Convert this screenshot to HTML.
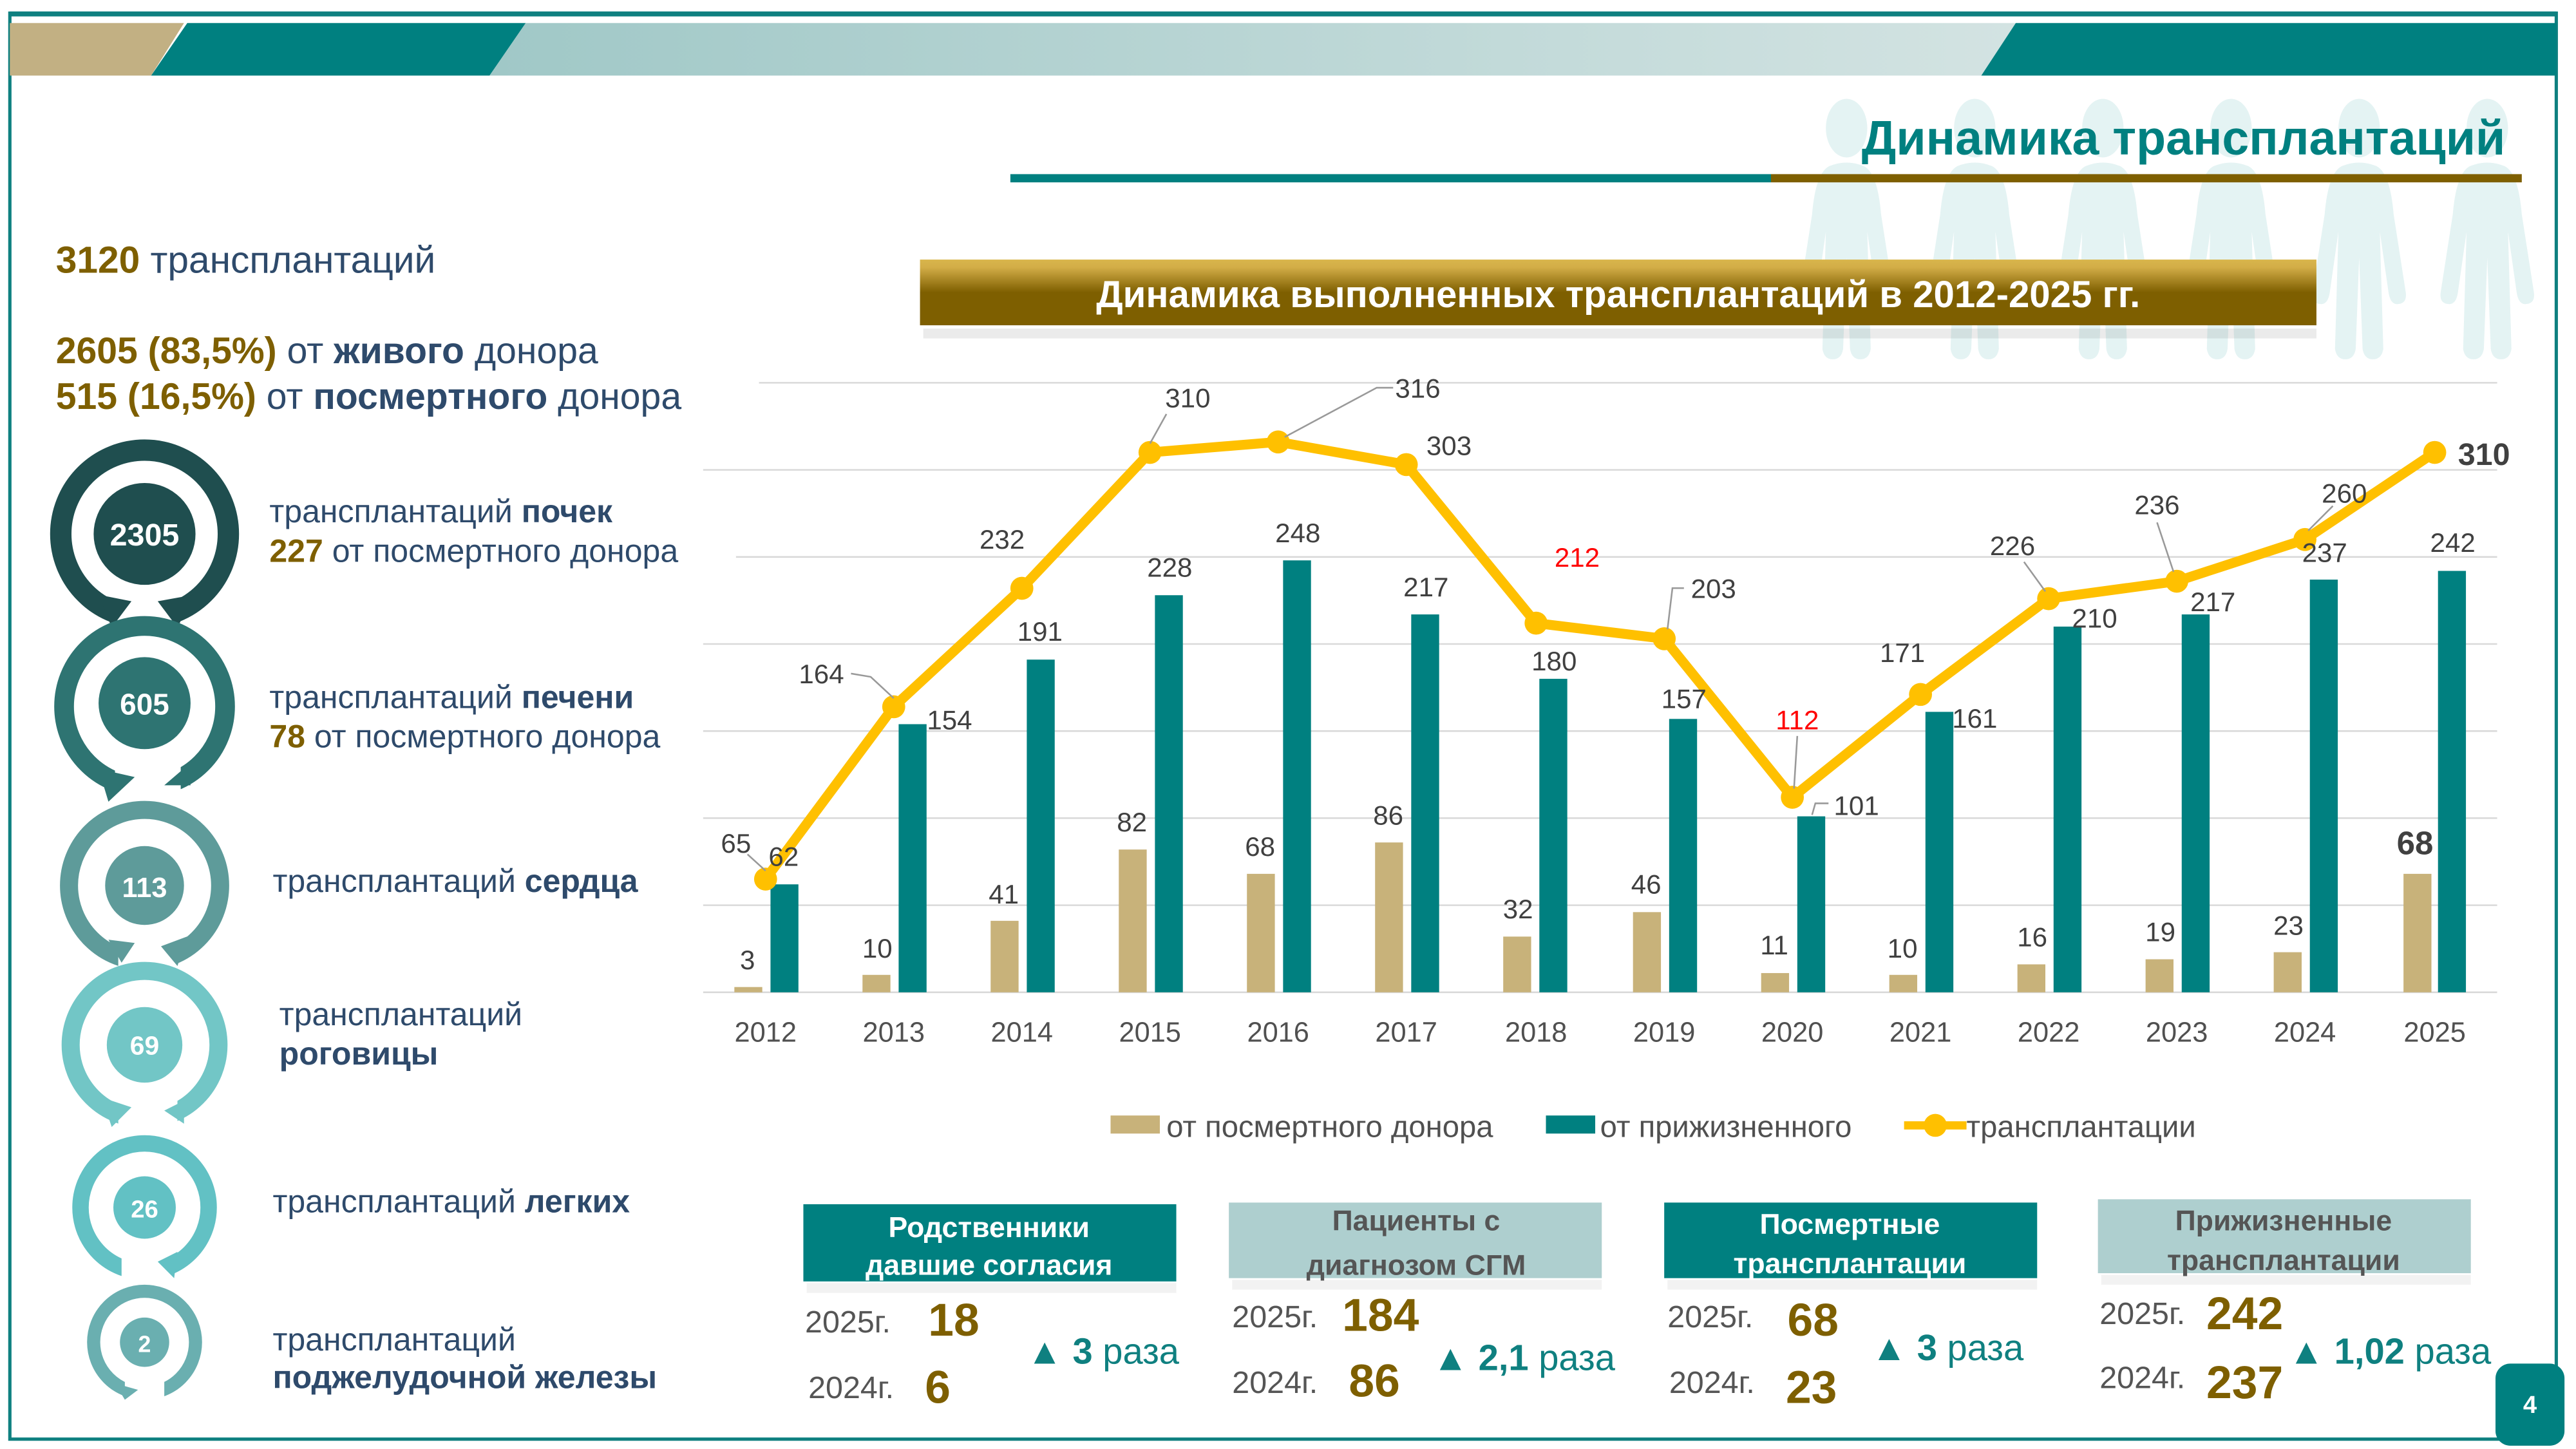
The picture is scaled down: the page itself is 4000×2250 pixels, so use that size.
<!DOCTYPE html>
<html><head><meta charset="utf-8"><style>
html,body{margin:0;padding:0;background:#fff;}
svg{display:block;}
text{font-family:"Liberation Sans",sans-serif;}
</style></head><body>
<svg width="4000" height="2250" viewBox="0 0 1568 882" xmlns="http://www.w3.org/2000/svg">
<defs>
<linearGradient id="hg" x1="0" x2="1" y1="0" y2="0"><stop offset="0" stop-color="#a0c8c7"/><stop offset="1" stop-color="#d3e3e2"/></linearGradient>
<linearGradient id="gold" x1="0" x2="0" y1="0" y2="1"><stop offset="0" stop-color="#d9b64c"/><stop offset="0.12" stop-color="#d2ad47"/><stop offset="0.5" stop-color="#7e5f00"/><stop offset="1" stop-color="#7e5f00"/></linearGradient>
<g id="person"><ellipse cx="0" cy="0" rx="12" ry="17" fill="#e4f3f3"/><path d="M-10,22 Q0,18 10,22 Q18,26 20,50 L27,95 Q28,102 22,102 Q18,102 17,95 L12,60 L14,128 Q13,134 8,134 Q3,134 2,128 L0,75 L-2,128 Q-3,134 -8,134 Q-13,134 -14,128 L-12,60 L-17,95 Q-18,102 -22,102 Q-28,102 -27,95 L-20,50 Q-18,26 -10,22Z" fill="#e4f3f3"/></g>
</defs>
<rect x="0" y="0" width="1568" height="882" fill="#fff"/>
<rect x="6" y="8" width="1550" height="868" fill="none" stroke="#0f8080" stroke-width="2"/>
<rect x="6" y="7" width="1550" height="3" fill="#0f8080"/>
<polygon points="6,14 112,14 92,46 6,46" fill="#c2b083"/>
<polygon points="114,14 320,14 298,46 92,46" fill="#008080"/>
<polygon points="320,14 1227,14 1206,46 298,46" fill="url(#hg)"/>
<polygon points="1227,14 1556,14 1556,46 1206,46" fill="#008080"/>
<g transform="translate(1124,78) scale(1.05,1.05)"><use href="#person"/></g>
<g transform="translate(1202,78) scale(1.05,1.05)"><use href="#person"/></g>
<g transform="translate(1280,78) scale(1.05,1.05)"><use href="#person"/></g>
<g transform="translate(1358,78) scale(1.05,1.05)"><use href="#person"/></g>
<g transform="translate(1436,78) scale(1.05,1.05)"><use href="#person"/></g>
<g transform="translate(1514,78) scale(1.05,1.05)"><use href="#person"/></g>
<text x="1525" y="94" text-anchor="end" font-size="29.5" font-weight="bold" fill="#008080">Динамика трансплантаций</text>
<rect x="615" y="106" width="463" height="5" fill="#008080"/>
<rect x="1078" y="106" width="457" height="5" fill="#7e5f00"/>
<rect x="562" y="200" width="848" height="6" fill="#000" opacity="0.08"/>
<rect x="560" y="158" width="850" height="40" fill="url(#gold)"/>
<text x="985" y="187" text-anchor="middle" font-size="22.8" font-weight="bold" fill="#fff">Динамика выполненных трансплантаций в 2012-2025 гг.</text>
<text x="34" y="166" font-size="23" fill="#2e4a6b"><tspan fill="#7e5f00" font-weight="bold">3120</tspan> трансплантаций</text>
<text x="34" y="221" font-size="22.4" fill="#2e4a6b"><tspan fill="#7e5f00" font-weight="bold">2605 (83,5%)</tspan> от <tspan font-weight="bold">живого</tspan> донора</text>
<text x="34" y="249" font-size="22.4" fill="#2e4a6b"><tspan fill="#7e5f00" font-weight="bold">515 (16,5%)</tspan> от <tspan font-weight="bold">посмертного</tspan> донора</text>
<g>
<circle cx="88" cy="325" r="51" fill="none" stroke="#1f4e4f" stroke-width="13"/>
<rect x="70" y="360" width="40" height="30" fill="#fff"/>
<polygon points="60,362 80,366 68,382" fill="#1f4e4f"/><polygon points="118,362 96,366 108,382" fill="#1f4e4f"/>
<circle cx="88" cy="325" r="31" fill="#1f4e4f"/>
<text x="88" y="332" text-anchor="middle" font-size="19" font-weight="bold" fill="#fff">2305</text>
<circle cx="88" cy="430" r="49" fill="none" stroke="#2e7472" stroke-width="12"/>
<rect x="70" y="462" width="40" height="28" fill="#fff"/>
<polygon points="60,468 82,473 66,488" fill="#2e7472"/><polygon points="114,466 100,478 116,478" fill="#2e7472"/>
<circle cx="88" cy="428" r="28" fill="#2e7472"/>
<text x="88" y="435" text-anchor="middle" font-size="18" font-weight="bold" fill="#fff">605</text>
<circle cx="88" cy="539" r="46" fill="none" stroke="#5e9b9a" stroke-width="11"/>
<rect x="72" y="570" width="36" height="22" fill="#fff"/>
<polygon points="66,572 82,574 74,586" fill="#5e9b9a"/><polygon points="114,570 98,576 108,588" fill="#5e9b9a"/>
<circle cx="88" cy="539" r="24" fill="#5e9b9a"/>
<text x="88" y="546" text-anchor="middle" font-size="17" font-weight="bold" fill="#fff">113</text>
<circle cx="88" cy="636" r="45" fill="none" stroke="#72c6c6" stroke-width="11"/>
<rect x="72" y="667" width="36" height="22" fill="#fff"/>
<polygon points="62,668 80,674 68,686" fill="#72c6c6"/><polygon points="112,670 100,676 112,684" fill="#72c6c6"/>
<circle cx="88" cy="636" r="23" fill="#72c6c6"/>
<text x="88" y="642" text-anchor="middle" font-size="16" font-weight="bold" fill="#fff">69</text>
<circle cx="88" cy="735" r="39" fill="none" stroke="#62c1c4" stroke-width="10"/>
<rect x="74" y="760" width="32" height="20" fill="#fff"/>
<polygon points="108,762 96,768 106,778" fill="#62c1c4"/>
<circle cx="88" cy="735" r="19" fill="#62c1c4"/>
<text x="88" y="741" text-anchor="middle" font-size="15" font-weight="bold" fill="#fff">26</text>
<circle cx="88" cy="817" r="31" fill="none" stroke="#6aafb0" stroke-width="8"/>
<rect x="76" y="838" width="24" height="16" fill="#fff"/>
<polygon points="70,842 84,846 76,852" fill="#6aafb0"/>
<circle cx="88" cy="817" r="15" fill="#6aafb0"/>
<text x="88" y="823" text-anchor="middle" font-size="14" font-weight="bold" fill="#fff">2</text>
</g>
<g font-size="19.6" fill="#2e4a6b">
<text x="164" y="318">трансплантаций <tspan font-weight="bold">почек</tspan></text>
<text x="164" y="342"><tspan fill="#7e5f00" font-weight="bold">227</tspan> от посмертного донора</text>
<text x="164" y="431">трансплантаций <tspan font-weight="bold">печени</tspan></text>
<text x="164" y="455"><tspan fill="#7e5f00" font-weight="bold">78</tspan> от посмертного донора</text>
<text x="166" y="543">трансплантаций <tspan font-weight="bold">сердца</tspan></text>
<text x="170" y="624">трансплантаций</text>
<text x="170" y="648" font-weight="bold">роговицы</text>
<text x="166" y="738">трансплантаций <tspan font-weight="bold">легких</tspan></text>
<text x="166" y="822">трансплантаций</text>
<text x="166" y="845" font-weight="bold">поджелудочной железы</text>
</g>
<g stroke="#d9d9d9" stroke-width="1">
<line x1="462" y1="233" x2="1520" y2="233"/>
<line x1="428" y1="286" x2="1520" y2="286"/>
<line x1="448" y1="339" x2="1520" y2="339"/>
<line x1="428" y1="392" x2="1520" y2="392"/>
<line x1="428" y1="445" x2="1520" y2="445"/>
<line x1="428" y1="498" x2="1520" y2="498"/>
<line x1="428" y1="551" x2="1520" y2="551"/>
<line x1="428" y1="604" x2="1520" y2="604"/>
</g>
<g>
<rect x="447" y="600.8" width="17" height="3.2" fill="#c8b27a"/><rect x="469" y="538.3" width="17" height="65.7" fill="#008080"/>
<rect x="525" y="593.4" width="17" height="10.6" fill="#c8b27a"/><rect x="547" y="440.8" width="17" height="163.2" fill="#008080"/>
<rect x="603" y="560.5" width="17" height="43.5" fill="#c8b27a"/><rect x="625" y="401.5" width="17" height="202.5" fill="#008080"/>
<rect x="681" y="517.1" width="17" height="86.9" fill="#c8b27a"/><rect x="703" y="362.3" width="17" height="241.7" fill="#008080"/>
<rect x="759" y="531.9" width="17" height="72.1" fill="#c8b27a"/><rect x="781" y="341.1" width="17" height="262.9" fill="#008080"/>
<rect x="837" y="512.8" width="17" height="91.2" fill="#c8b27a"/><rect x="859" y="374" width="17" height="230" fill="#008080"/>
<rect x="915" y="570.1" width="17" height="33.9" fill="#c8b27a"/><rect x="937" y="413.2" width="17" height="190.8" fill="#008080"/>
<rect x="994" y="555.2" width="17" height="48.8" fill="#c8b27a"/><rect x="1016" y="437.6" width="17" height="166.4" fill="#008080"/>
<rect x="1072" y="592.3" width="17" height="11.7" fill="#c8b27a"/><rect x="1094" y="496.9" width="17" height="107.1" fill="#008080"/>
<rect x="1150" y="593.4" width="17" height="10.6" fill="#c8b27a"/><rect x="1172" y="433.3" width="17" height="170.7" fill="#008080"/>
<rect x="1228" y="587" width="17" height="17" fill="#c8b27a"/><rect x="1250" y="381.4" width="17" height="222.6" fill="#008080"/>
<rect x="1306" y="583.9" width="17" height="20.1" fill="#c8b27a"/><rect x="1328" y="374" width="17" height="230" fill="#008080"/>
<rect x="1384" y="579.6" width="17" height="24.4" fill="#c8b27a"/><rect x="1406" y="352.8" width="17" height="251.2" fill="#008080"/>
<rect x="1463" y="531.9" width="17" height="72.1" fill="#c8b27a"/><rect x="1484" y="347.5" width="17" height="256.5" fill="#008080"/>
</g>
<polyline fill="none" stroke="#ffc000" stroke-width="6" stroke-linejoin="round" points="466,535.1 544,430.2 622,358.1 700,275.4 778,269 856,282.8 935,379.3 1013,388.8 1091,485.3 1169,422.7 1247,364.4 1325,353.8 1403,328.4 1482,275.4"/>
<g fill="#ffc000">
<circle cx="466" cy="535.1" r="7"/><circle cx="544" cy="430.2" r="7"/><circle cx="622" cy="358.1" r="7"/><circle cx="700" cy="275.4" r="7"/><circle cx="778" cy="269" r="7"/><circle cx="856" cy="282.8" r="7"/><circle cx="935" cy="379.3" r="7"/><circle cx="1013" cy="388.8" r="7"/><circle cx="1091" cy="485.3" r="7"/><circle cx="1169" cy="422.7" r="7"/><circle cx="1247" cy="364.4" r="7"/><circle cx="1325" cy="353.8" r="7"/><circle cx="1403" cy="328.4" r="7"/><circle cx="1482" cy="275.4" r="7"/>
</g>
<g stroke="#999" stroke-width="1" fill="none">
<line x1="455" y1="520" x2="466" y2="530"/>
<polyline points="518,410 530,412 544,425"/>
<line x1="710" y1="252" x2="700" y2="270"/>
<polyline points="782,266 838,236 848,236"/>
<polyline points="1025,358 1018,358 1015,383"/>
<line x1="1094" y1="448" x2="1092" y2="480"/>
<polyline points="1113,489 1105,489 1103,496"/>
<line x1="1232" y1="342" x2="1245" y2="360"/>
<line x1="1313" y1="318" x2="1323" y2="348"/>
<line x1="1420" y1="308" x2="1405" y2="323"/>
</g>
<g font-size="16.5" fill="#404040" text-anchor="middle">
<text x="448" y="519">65</text><text x="500" y="416">164</text><text x="610" y="334">232</text><text x="723" y="248">310</text><text x="863" y="242">316</text><text x="882" y="277">303</text><text x="960" y="345" fill="#ff0000">212</text><text x="1043" y="364">203</text><text x="1094" y="444" fill="#ff0000">112</text><text x="1158" y="403">171</text><text x="1225" y="338">226</text><text x="1313" y="313">236</text><text x="1427" y="306">260</text>
<text x="1512" y="283" font-weight="bold" font-size="19">310</text>
<text x="477" y="527">62</text><text x="578" y="444">154</text><text x="633" y="390">191</text><text x="712" y="351">228</text><text x="790" y="330">248</text><text x="868" y="363">217</text><text x="946" y="408">180</text><text x="1025" y="431">157</text><text x="1130" y="496">101</text><text x="1202" y="443">161</text><text x="1275" y="382">210</text><text x="1347" y="372">217</text><text x="1415" y="342">237</text><text x="1493" y="336">242</text>
<text x="455" y="590">3</text><text x="534" y="583">10</text><text x="611" y="550">41</text><text x="689" y="506">82</text><text x="767" y="521">68</text><text x="845" y="502">86</text><text x="924" y="559">32</text><text x="1002" y="544">46</text><text x="1080" y="581">11</text><text x="1158" y="583">10</text><text x="1237" y="576">16</text><text x="1315" y="573">19</text><text x="1393" y="569">23</text>
<text x="1470" y="520" font-weight="bold" font-size="20">68</text>
</g>
<g font-size="17" fill="#505050" text-anchor="middle">
<text x="466" y="634">2012</text><text x="544" y="634">2013</text><text x="622" y="634">2014</text><text x="700" y="634">2015</text><text x="778" y="634">2016</text><text x="856" y="634">2017</text><text x="935" y="634">2018</text><text x="1013" y="634">2019</text><text x="1091" y="634">2020</text><text x="1169" y="634">2021</text><text x="1247" y="634">2022</text><text x="1325" y="634">2023</text><text x="1403" y="634">2024</text><text x="1482" y="634">2025</text>
</g>
<rect x="676" y="679" width="30" height="11" fill="#c8b27a"/>
<text x="710" y="692" font-size="18.5" fill="#505050">от посмертного донора</text>
<rect x="941" y="679" width="30" height="11" fill="#008080"/>
<text x="974" y="692" font-size="18.5" fill="#505050">от прижизненного</text>
<line x1="1159" y1="685" x2="1197" y2="685" stroke="#ffc000" stroke-width="5"/>
<circle cx="1178" cy="685" r="7" fill="#ffc000"/>
<text x="1197" y="692" font-size="18.5" fill="#505050">трансплантации</text>
<g font-size="17.5" font-weight="bold" text-anchor="middle">
<rect x="491" y="781" width="225" height="6" fill="#000" opacity="0.05"/>
<rect x="489" y="733" width="227" height="47" fill="#008080"/>
<text x="602" y="753" fill="#fff">Родственники</text><text x="602" y="776" fill="#fff">давшие согласия</text>
<rect x="750" y="779" width="225" height="6" fill="#000" opacity="0.05"/>
<rect x="748" y="732" width="227" height="46" fill="#aecfcf"/>
<text x="862" y="749" fill="#555">Пациенты с</text><text x="862" y="776" fill="#555">диагнозом СГМ</text>
<rect x="1015" y="779" width="225" height="6" fill="#000" opacity="0.05"/>
<rect x="1013" y="732" width="227" height="46" fill="#008080"/>
<text x="1126" y="751" fill="#fff">Посмертные</text><text x="1126" y="775" fill="#fff">трансплантации</text>
<rect x="1279" y="776" width="225" height="6" fill="#000" opacity="0.05"/>
<rect x="1277" y="730" width="227" height="45" fill="#aecfcf"/>
<text x="1390" y="749" fill="#555">Прижизненные</text><text x="1390" y="773" fill="#555">трансплантации</text>
</g>
<g font-size="19" fill="#555">
<text x="490" y="811">2025г.</text><text x="492" y="851">2024г.</text>
<text x="750" y="808">2025г.</text><text x="750" y="848">2024г.</text>
<text x="1015" y="808">2025г.</text><text x="1016" y="848">2024г.</text>
<text x="1278" y="806">2025г.</text><text x="1278" y="845">2024г.</text>
</g>
<g font-size="28" font-weight="bold" fill="#7e5f00">
<text x="565" y="813">18</text><text x="563" y="854">6</text>
<text x="817" y="810">184</text><text x="821" y="850">86</text>
<text x="1088" y="813">68</text><text x="1087" y="854">23</text>
<text x="1343" y="809">242</text><text x="1343" y="851">237</text>
</g>
<g font-size="22" font-weight="bold" fill="#0f8080">
<text x="625" y="830">▲ 3 <tspan font-weight="normal">раза</tspan></text>
<text x="872" y="834">▲ 2,1 <tspan font-weight="normal">раза</tspan></text>
<text x="1139" y="828">▲ 3 <tspan font-weight="normal">раза</tspan></text>
<text x="1393" y="830">▲ 1,02 <tspan font-weight="normal">раза</tspan></text>
</g>
<rect x="1519" y="830" width="42" height="50" rx="9" fill="#008080"/>
<text x="1540" y="860" text-anchor="middle" font-size="15" font-weight="bold" fill="#fff">4</text>
</svg>
</body></html>
